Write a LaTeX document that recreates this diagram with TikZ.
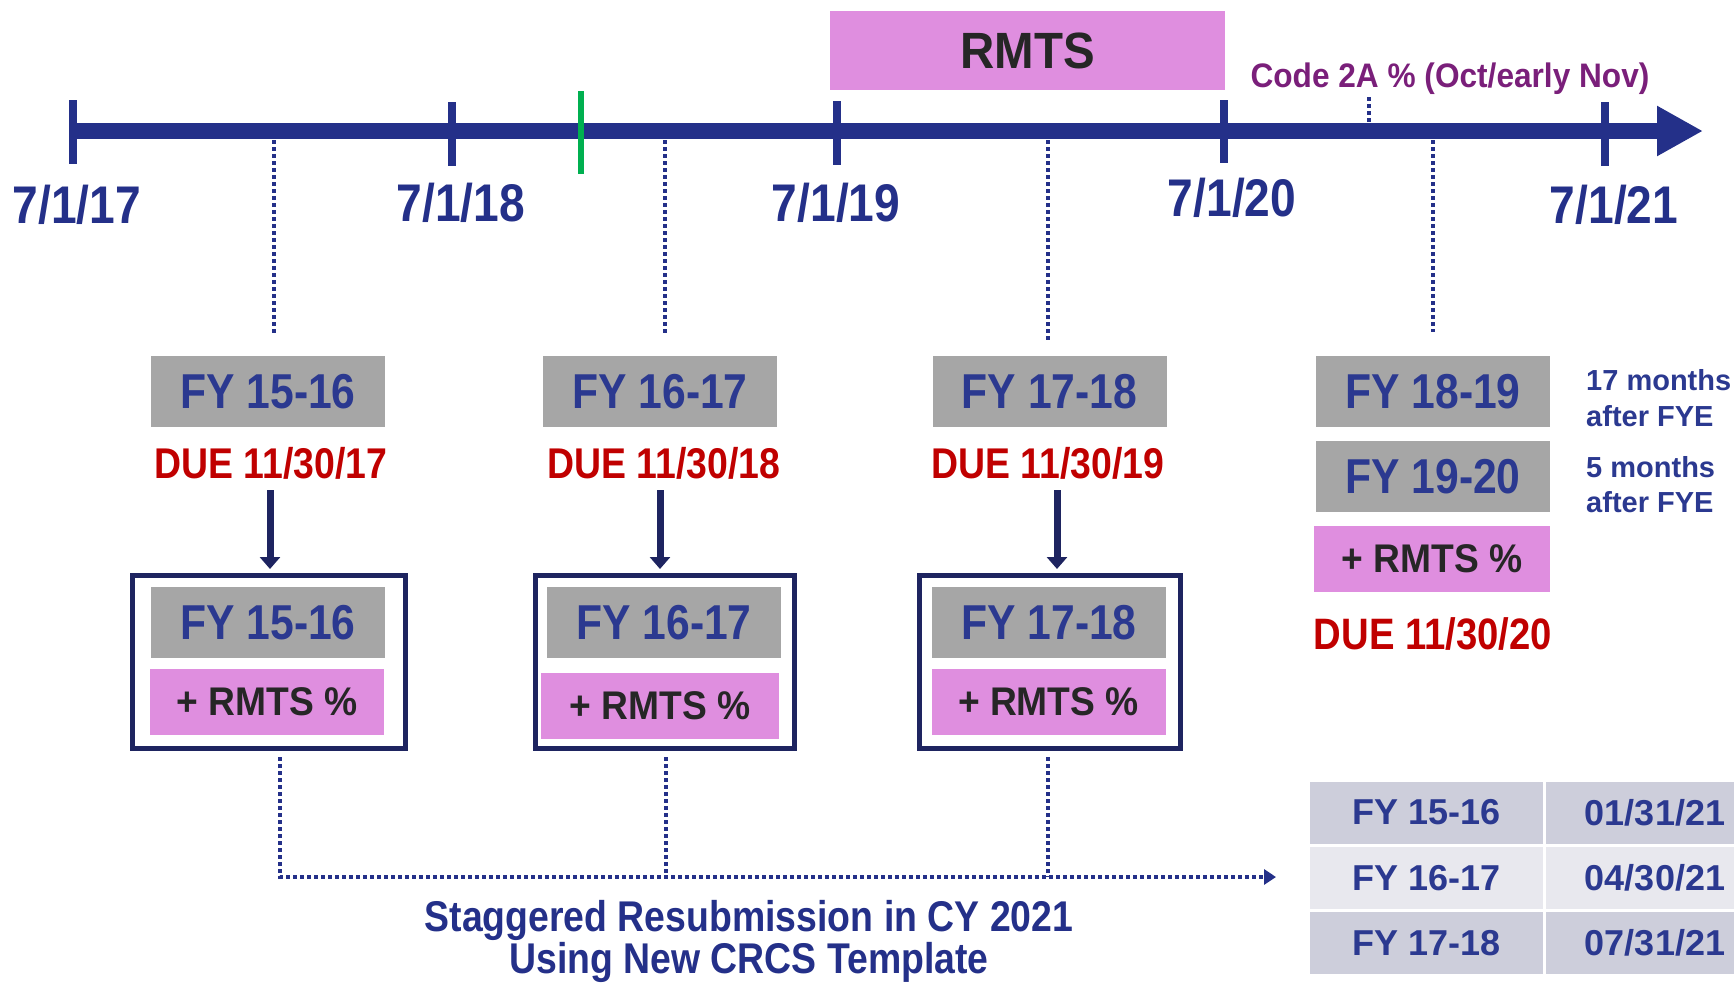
\documentclass[tikz,border=0pt]{standalone}
\usepackage{fontspec}
\setmainfont{Liberation Sans}
\newfontfamily\fcond[FakeStretch=0.87]{Liberation Sans}
\newfontfamily\fsemi[FakeStretch=0.93]{Liberation Sans}
\usetikzlibrary{arrows.meta}
\definecolor{navy}{RGB}{36,48,137}
\definecolor{txtnavy}{RGB}{43,57,144}
\definecolor{darknavy}{RGB}{30,36,96}
\definecolor{boxgray}{RGB}{166,166,166}
\definecolor{pinkbox}{RGB}{223,142,223}
\definecolor{duered}{RGB}{192,0,0}
\definecolor{codepurple}{RGB}{122,31,122}
\definecolor{tabdark}{RGB}{205,206,219}
\definecolor{tablight}{RGB}{232,232,238}
\definecolor{darktext}{RGB}{38,38,38}
\definecolor{tickgreen}{RGB}{0,176,80}
\tikzset{
  datelbl/.style={anchor=base, text=navy, inner sep=0pt, font=\fcond\bfseries\fontsize{53}{60}\selectfont},
  tickmark/.style={navy, line width=8pt},
  fybox/.style={fill=boxgray, minimum width=234pt, minimum height=71pt, inner sep=0pt, text=txtnavy, font=\fcond\bfseries\fontsize{49}{56}\selectfont},
  rmtsbox/.style={fill=pinkbox, minimum width=234pt, minimum height=66pt, inner sep=0pt, text=darktext, font=\fsemi\bfseries\fontsize{40}{46}\selectfont},
  duelbl/.style={anchor=base, text=duered, inner sep=0pt, font=\fcond\bfseries\fontsize{43}{50}\selectfont},
  framebox/.style={draw=darknavy, line width=5pt, fill=white, inner sep=0pt},
  downarrow/.style={draw=darknavy, line width=7pt, -{Triangle[length=12pt,width=20pt]}},
  dotline/.style={draw=navy, line width=3.5pt, dash pattern=on 3.5pt off 3.5pt},
  notelbl/.style={anchor=base west, text=txtnavy, inner sep=0pt, font=\bfseries\fontsize{29}{35}\selectfont},
  tabcell/.style={minimum height=62pt, inner sep=0pt, text=txtnavy, font=\bfseries\fontsize{36}{42}\selectfont},
  resublbl/.style={anchor=base, text=navy, inner sep=0pt, font=\fcond\bfseries\fontsize{43}{45}\selectfont},
}
\begin{document}
\begin{tikzpicture}[x=1pt,y=-1pt]
\useasboundingbox (0,0) rectangle (1734,983);

% RMTS bar and Code 2A label
\node[fill=pinkbox, minimum width=395pt, minimum height=79pt, inner sep=0pt, text=darktext,
      font=\fsemi\bfseries\fontsize{51}{58}\selectfont] (rmts) at (1027.5,50.5) {RMTS};
\node[anchor=base, text=codepurple, inner sep=0pt, font=\fsemi\bfseries\fontsize{34}{40}\selectfont]
      (code2a) at (1450,87) {Code 2A \% (Oct/early Nov)};
\coordinate (c2top) at (1369,97);
\coordinate (c2bot) at (1369,123);
\draw[dotline] (c2top) -- (c2bot);

% timeline
\coordinate (tl0) at (69,131);
\coordinate (tl1) at (1703,131);
\draw[navy, line width=16pt, -{Triangle[length=46pt,width=47pt]}] (tl0) -- (tl1);
\draw[tickmark] (73,100) -- (73,164);
\draw[tickmark] (452,102) -- (452,166);
\draw[tickmark] (837,101) -- (837,165);
\draw[tickmark] (1224,100) -- (1224,163);
\draw[tickmark] (1605,102) -- (1605,166);
\draw[tickgreen, line width=6pt] (581,91) -- (581,174);

\node[datelbl] (d17) at (77,223) {7/1/17};
\node[datelbl] (d18) at (461,221) {7/1/18};
\node[datelbl] (d19) at (836,221) {7/1/19};
\node[datelbl] (d20) at (1232,216) {7/1/20};
\node[datelbl] (d21) at (1614,223) {7/1/21};

% FY boxes
\node[fybox] (fy1) at (268,391.5) {FY 15-16};
\node[fybox] (fy2) at (660,391.5) {FY 16-17};
\node[fybox] (fy3) at (1049.5,391.5) {FY 17-18};
\node[fybox] (fy4) at (1433,391.5) {FY 18-19};
\node[fybox] (fy5) at (1433,476.5) {FY 19-20};
\node[rmtsbox, minimum width=236pt] (rm4) at (1432,559) {+ RMTS \%};

% dotted markers from timeline
\coordinate (m1) at (274,140); \coordinate (m1e) at (274,333);
\coordinate (m2) at (665,140); \coordinate (m2e) at (665,336);
\coordinate (m3) at (1048,140); \coordinate (m3e) at (1048,340);
\coordinate (m4) at (1433,140); \coordinate (m4e) at (1433,332);
\draw[dotline] (m1) -- (m1e);
\draw[dotline] (m2) -- (m2e);
\draw[dotline] (m3) -- (m3e);
\draw[dotline] (m4) -- (m4e);

% due dates
\node[duelbl] (due1) at (271,478) {DUE 11/30/17};
\node[duelbl] (due2) at (664,478) {DUE 11/30/18};
\node[duelbl] (due3) at (1048,478) {DUE 11/30/19};
\node[duelbl, font=\fcond\bfseries\fontsize{44}{50}\selectfont] (due4) at (1433,649) {DUE 11/30/20};

% notes
\node[notelbl] (n1a) at (1586,390) {17 months};
\node[notelbl] (n1b) at (1586,426) {after FYE};
\node[notelbl] (n2a) at (1586,477) {5 months};
\node[notelbl] (n2b) at (1586,512) {after FYE};

% framed resubmission boxes
\node[framebox, minimum width=273pt, minimum height=173pt] (fr1) at (269,662) {};
\node[framebox, minimum width=259pt, minimum height=173pt] (fr2) at (665,662) {};
\node[framebox, minimum width=261pt, minimum height=173pt] (fr3) at (1050,662) {};
\node[fybox] (fy1b) at (268,622.5) {FY 15-16};
\node[rmtsbox] (rm1) at (267,702) {+ RMTS \%};
\node[fybox] (fy2b) at (664,622.5) {FY 16-17};
\node[rmtsbox, minimum width=238pt] (rm2) at (660,705.5) {+ RMTS \%};
\node[fybox] (fy3b) at (1049,622.5) {FY 17-18};
\node[rmtsbox] (rm3) at (1048.5,702) {+ RMTS \%};

% down arrows
\coordinate (a1s) at (270,490); \coordinate (a1e) at (270,569);
\coordinate (a2s) at (660,490); \coordinate (a2e) at (660,569);
\coordinate (a3s) at (1057,490); \coordinate (a3e) at (1057,569);
\draw[downarrow] (a1s) -- (a1e);
\draw[downarrow] (a2s) -- (a2e);
\draw[downarrow] (a3s) -- (a3e);

% staggered resubmission dotted connector
\coordinate (b1) at (280,757);
\coordinate (b2) at (666,757);
\coordinate (b3) at (1048,757);
\coordinate (resub) at (1276,877);
\draw[dotline, -{Triangle[length=12pt,width=15pt]}] (b1) |- (resub);
\draw[dotline] (b2) -- (b2 |- resub);
\draw[dotline] (b3) -- (b3 |- resub);

\node[resublbl] (rt1) at (749,931) {Staggered Resubmission in CY 2021};
\node[resublbl] (rt2) at (749,973) {Using New CRCS Template};

% table
\node[tabcell, fill=tabdark, minimum width=233pt] (t11) at (1426.5,812.5) {FY 15-16};
\node[tabcell, fill=tabdark, minimum width=218pt] (t12) at (1655,812.5) {01/31/21};
\node[tabcell, fill=tablight, minimum width=233pt] (t21) at (1426.5,878) {FY 16-17};
\node[tabcell, fill=tablight, minimum width=218pt] (t22) at (1655,878) {04/30/21};
\node[tabcell, fill=tabdark, minimum width=233pt] (t31) at (1426.5,943) {FY 17-18};
\node[tabcell, fill=tabdark, minimum width=218pt] (t32) at (1655,943) {07/31/21};
\end{tikzpicture}
\end{document}
